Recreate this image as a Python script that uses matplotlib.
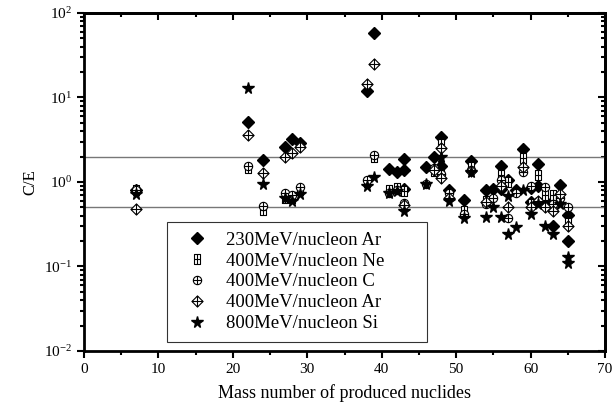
import matplotlib
matplotlib.use("Agg")
import matplotlib.pyplot as plt
from matplotlib.path import Path
from matplotlib.ticker import LogLocator, MultipleLocator, NullFormatter

plt.rcParams["font.family"] = ["Liberation Serif", "DejaVu Serif"]
plt.rcParams["mathtext.fontset"] = "stix"

# C/E ratios, by mass number of produced nuclide
ar230_a = [7, 22, 24, 27, 28, 29, 38, 39, 41, 42, 43, 43, 43, 46, 47, 48, 48,
           49, 51, 52, 54, 55, 56, 56, 57, 58, 59, 60, 60, 61, 61, 62, 63, 64, 65, 65]
ar230_v = [0.8, 5.1, 1.82, 2.6, 3.2, 2.9, 12, 58, 1.43, 1.31, 1.87, 1.38, 0.83,
           1.5, 2.0, 3.4, 1.55, 0.8, 0.62, 1.75, 0.8, 0.82, 1.55, 0.82, 1.05, 0.8,
           2.45, 0.85, 0.58, 1.63, 0.9, 0.6, 0.3, 0.92, 0.41, 0.2]

ne400_a = [7, 22, 24, 27, 28, 29, 38, 39, 41, 42, 43, 47, 48, 48, 49, 51, 52,
           54, 56, 57, 59, 60, 61, 62, 63, 64, 65]
ne400_v = [0.8, 1.45, 0.47, 0.65, 0.65, 0.8, 1.0, 1.95, 0.8, 0.85, 0.78, 1.35,
           2.8, 1.2, 0.72, 0.45, 1.5, 0.6, 1.2, 1.0, 1.9, 0.55, 1.2, 0.7, 0.7, 0.65, 0.33]

c400_a = [7, 22, 24, 27, 28, 29, 38, 39, 41, 42, 43, 46, 47, 48, 49, 51, 52, 54,
          55, 56, 57, 58, 59, 60, 61, 62, 63, 64, 65]
c400_v = [0.8, 1.55, 0.52, 0.75, 0.7, 0.88, 1.05, 2.1, 0.75, 0.8, 0.56, 0.95,
          1.45, 1.25, 0.75, 0.42, 1.4, 0.55, 0.65, 1.05, 0.37, 0.75, 1.3, 0.9,
          0.6, 0.88, 0.55, 0.65, 0.5]

ar400_a = [7, 22, 24, 27, 28, 29, 38, 39, 43, 47, 48, 48, 49, 52, 54, 56, 57,
           59, 60, 61, 62, 63, 64, 65]
ar400_v = [0.48, 3.6, 1.28, 2.0, 2.22, 2.6, 14.5, 25, 0.53, 1.4, 2.5, 1.1, 0.65,
           1.35, 0.58, 0.9, 0.5, 1.5, 0.5, 0.6, 0.5, 0.45, 0.72, 0.3]

si800_a = [7, 22, 24, 27, 28, 29, 38, 39, 41, 42, 43, 46, 48, 49, 51, 52, 54, 55,
           56, 57, 57, 58, 59, 60, 61, 62, 63, 64, 65, 65]
si800_v = [0.73, 13, 0.95, 0.65, 0.6, 0.72, 0.9, 1.15, 0.75, 0.78, 0.45, 0.95,
           2.0, 0.6, 0.37, 1.3, 0.38, 0.5, 0.38, 0.24, 0.69, 0.29, 0.8, 0.42, 0.55,
           0.3, 0.24, 0.55, 0.128, 0.11]

labels = ["230MeV/nucleon Ar", "400MeV/nucleon Ne", "400MeV/nucleon C",
          "400MeV/nucleon Ar", "800MeV/nucleon Si"]

# custom open markers: box+cross, circle+cross, diamond+cross
cross = [Path([(-1, 0), (1, 0)]), Path([(0, -1), (0, 1)])]
box = Path([(-0.75, -1), (0.75, -1), (0.75, 1), (-0.75, 1), (-0.75, -1)], closed=True)
box_plus = Path.make_compound_path(box, Path([(-0.75, 0), (0.75, 0)]), cross[1])
circ_plus = Path.make_compound_path(Path.unit_circle(), *cross)
dia = Path([(0, -1), (1, 0), (0, 1), (-1, 0), (0, -1)], closed=True)
dia_plus = Path.make_compound_path(dia, *cross)

fig = plt.figure(figsize=(6.13, 4.07), dpi=100)
ax = fig.add_axes([0.137, 0.1376, 0.85, 0.8305])

ax.axhline(2, color="#777777", lw=1.0, zorder=1)
ax.axhline(0.5, color="#777777", lw=1.0, zorder=1)

ax.plot(ar230_a, ar230_v, ls="none", marker="D", ms=6.5, color="black", label=labels[0], zorder=3)
ax.plot(ne400_a, ne400_v, ls="none", marker=box_plus, ms=6.5, mfc="white", mec="black",
        mew=0.8, label=labels[1], zorder=3)
ax.plot(c400_a, c400_v, ls="none", marker=circ_plus, ms=6, mfc="white", mec="black",
        mew=0.8, label=labels[2], zorder=3)
ax.plot(ar400_a, ar400_v, ls="none", marker=dia_plus, ms=8, mfc="white", mec="black",
        mew=0.8, label=labels[3], zorder=3)
ax.plot(si800_a, si800_v, ls="none", marker="*", ms=8.5, color="black", label=labels[4], zorder=4)

ax.set_yscale("log")
ax.set_xlim(0, 70)
ax.set_ylim(1e-2, 1e2)
ax.xaxis.set_major_locator(MultipleLocator(10))
ax.xaxis.set_minor_locator(MultipleLocator(5))
ax.yaxis.set_major_locator(LogLocator(base=10, numticks=10))
ax.yaxis.set_minor_locator(LogLocator(base=10, subs=range(2, 10), numticks=10))
ax.yaxis.set_minor_formatter(NullFormatter())
ax.tick_params(which="both", direction="out", labelsize=11, width=1.5)
ax.tick_params(which="major", length=5)
ax.tick_params(which="minor", length=3)

# mirrored ticks on top and right, pointing inward
top = ax.secondary_xaxis("top")
top.xaxis.set_major_locator(MultipleLocator(10))
top.xaxis.set_minor_locator(MultipleLocator(5))
top.tick_params(which="both", direction="in", labeltop=False, width=1.5)
top.tick_params(which="major", length=5)
top.tick_params(which="minor", length=3)
right = ax.secondary_yaxis("right")
right.yaxis.set_major_locator(LogLocator(base=10, numticks=10))
right.yaxis.set_minor_locator(LogLocator(base=10, subs=range(2, 10), numticks=10))
right.tick_params(which="both", direction="in", labelright=False, width=1.5)
right.tick_params(which="major", length=5)
right.tick_params(which="minor", length=3)

for sp in ax.spines.values():
    sp.set_linewidth(2)
top.spines["top"].set_linewidth(2)
right.spines["right"].set_linewidth(2)

ax.set_xlabel("Mass number of produced nuclides", fontsize=13, labelpad=6)
ax.set_ylabel("C/E", fontsize=12)

leg = ax.legend(loc="lower left", bbox_to_anchor=(0.159, 0.028, 0.5, 0.36),
                mode="expand", fontsize=13.5, frameon=True, fancybox=False,
                edgecolor="black", handletextpad=0.48, borderaxespad=0,
                borderpad=0.5, labelspacing=0.2, handlelength=2.17)
leg.get_frame().set_linewidth(0.8)

fig.savefig("out.png", dpi=100, facecolor="white")
